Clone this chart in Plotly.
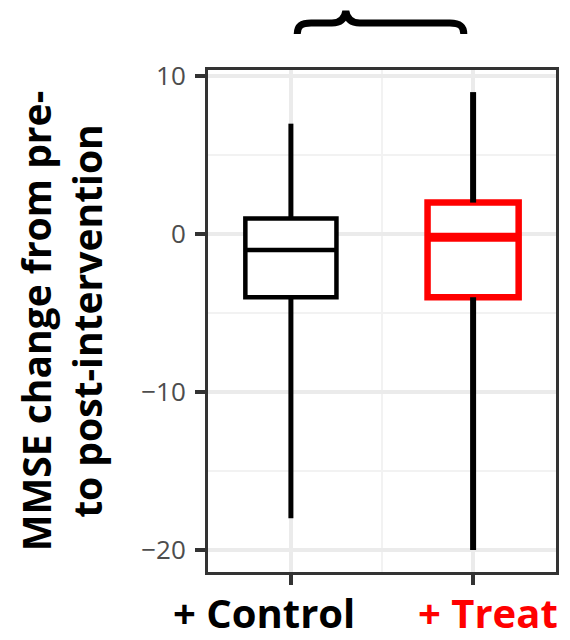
import plotly.graph_objects as go

# Summary statistics of MMSE change per group
groups = ["+ Control", "+ Treat"]
lower_whisker = [-18, -20]
q1 = [-4, -4]
median = [-1, -0.2]
q3 = [1, 2]
upper_whisker = [7, 9]
group_colors = ["#000000", "#FF0000"]

# Styling
box_line_widths = [4.5, 6.5]
median_widths = [4, 9]
whisker_widths = [5, 6]
BOX_WIDTH = 0.5
label_shifts = [-27, 15]

W, H = 570, 640
M_L, M_R, M_T, M_B = 208, 11, 70, 68
PW, PH = W - M_L - M_R, H - M_T - M_B


def px_to_paper(px, py):
    return (px - M_L) / PW, (H - M_B - py) / PH


fig = go.Figure()

for i, g in enumerate(groups):
    # whiskers (always black)
    fig.add_trace(go.Scatter(
        x=[i, i, None, i, i],
        y=[upper_whisker[i], q3[i], None, q1[i], lower_whisker[i]],
        mode="lines", line=dict(color="black", width=whisker_widths[i]),
        showlegend=False, hoverinfo="skip"))

for i, g in enumerate(groups):
    fig.add_trace(go.Box(
        x=[i], q1=[q1[i]], median=[median[i]], q3=[q3[i]],
        lowerfence=[q1[i]], upperfence=[q3[i]],
        width=BOX_WIDTH, whiskerwidth=0, boxpoints=False,
        fillcolor="white", line=dict(color=group_colors[i], width=box_line_widths[i]),
        name=g, showlegend=False, hoverinfo="skip"))
    fig.add_trace(go.Scatter(
        x=[i - BOX_WIDTH / 2, i + BOX_WIDTH / 2], y=[median[i], median[i]],
        mode="lines", line=dict(color=group_colors[i], width=median_widths[i]),
        showlegend=False, hoverinfo="skip"))

# category labels under the axis
for i, g in enumerate(groups):
    fig.add_annotation(
        x=i, xref="x", y=px_to_paper(0, 612)[1], yref="paper",
        text=f"<b>{g}</b>", showarrow=False, xshift=label_shifts[i],
        xanchor="center", yanchor="middle",
        font=dict(family="Open Sans", size=40, color=group_colors[i]))

# y-axis title
fig.add_annotation(
    x=px_to_paper(60, 0)[0], xref="paper", y=0.5, yref="paper",
    text="<b>MMSE change from pre-<br>to post-intervention</b>",
    textangle=-90, showarrow=False, xanchor="center", yanchor="middle",
    font=dict(family="Open Sans", size=39, color="black"))

# curly brace above the panel
brace_pts = [
    ("M", [(298, 34)]),
    ("C", [(298, 26), (302, 23), (312, 23)]),
    ("L", [(333, 23)]),
    ("C", [(342, 23), (346, 18), (347, 11)]),
    ("C", [(348, 18), (352, 23), (361, 23)]),
    ("L", [(452, 23)]),
    ("C", [(462, 23), (466, 26), (466, 34)]),
]
path = ""
for cmd, pts in brace_pts:
    path += cmd + " " + " ".join("%.5f,%.5f" % px_to_paper(x, y) for x, y in pts) + " "
fig.add_shape(type="path", path=path.strip(), xref="paper", yref="paper",
              line=dict(color="black", width=7))

fig.update_layout(
    width=W, height=H,
    margin=dict(l=M_L, r=M_R, t=M_T, b=M_B, pad=0),
    paper_bgcolor="white", plot_bgcolor="white",
    font=dict(family="Open Sans"),
    xaxis=dict(
        range=[-0.455, 1.455], tickvals=[0, 1], showticklabels=False,
        showgrid=True, gridcolor="#EBEBEB", gridwidth=4,
        minor=dict(tickvals=[0.5], showgrid=True, gridcolor="#F2F2F2", gridwidth=2, ticks=""),
        ticks="outside", ticklen=10, tickwidth=4, tickcolor="#333333",
        showline=True, linecolor="#333333", linewidth=3, mirror=True,
        zeroline=False, fixedrange=True),
    yaxis=dict(
        range=[-21.4, 10.4], tickvals=[-20, -10, 0, 10],
        ticktext=["\u221220", "\u221210", "0", "10"],
        showgrid=True, gridcolor="#EBEBEB", gridwidth=4,
        minor=dict(tickvals=[-15, -5, 5], showgrid=True, gridcolor="#F2F2F2", gridwidth=2, ticks=""),
        ticks="outside", ticklen=10, tickwidth=4, tickcolor="#333333",
        tickfont=dict(family="Open Sans", size=26, color="#4D4D4D"),
        ticklabelstandoff=4,
        showline=True, linecolor="#333333", linewidth=3, mirror=True,
        zeroline=False, fixedrange=True),
)

fig.write_html("out.html")
